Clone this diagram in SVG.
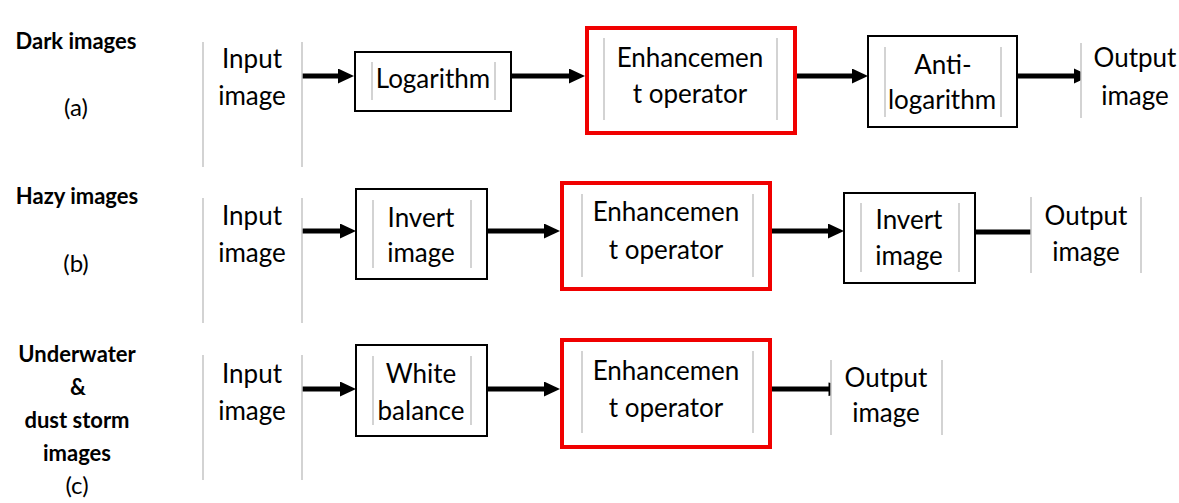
<svg xmlns="http://www.w3.org/2000/svg" width="1179" height="503" viewBox="0 0 1179 503">
<defs>
<style>
.t{font-family:Lato,"Open Sans","Liberation Sans",sans-serif;font-size:26px;fill:#000;text-anchor:middle}
.lb{font-family:Lato,"Open Sans","Liberation Sans",sans-serif;font-size:22px;font-weight:bold;fill:#000;text-anchor:middle}
.lr{font-family:Lato,"Open Sans","Liberation Sans",sans-serif;font-size:24px;fill:#000;text-anchor:middle}
.g{stroke:#c4c4c4;stroke-width:1.5;fill:none}
.bx{fill:#fff;stroke:#000;stroke-width:2}
.rb{fill:#fff;stroke:#f00000;stroke-width:4}
.ar{stroke:#000;stroke-width:5;fill:none}
</style>
<marker id="ah" viewBox="0 0 16 15" refX="1" refY="7.5" markerWidth="16" markerHeight="15" markerUnits="userSpaceOnUse" orient="auto">
<path d="M0,0 L16,7.5 L0,15 z" fill="#000"/>
</marker>
</defs>
<rect width="1179" height="503" fill="#fff"/>

<g id="labels">
<text class="lb" x="76" y="49">Dark images</text>
<text class="lr" x="76" y="116">(a)</text>
<text class="lb" x="77" y="204">Hazy images</text>
<text class="lr" x="76" y="272">(b)</text>
<text class="lb" x="77" y="362">Underwater</text>
<text class="lb" x="78" y="395">&amp;</text>
<text class="lb" x="77" y="428">dust storm</text>
<text class="lb" x="77" y="461">images</text>
<text class="lr" x="77" y="494">(c)</text>
</g>

<g id="connectors">
<line class="ar" x1="302" y1="76" x2="339" y2="76" marker-end="url(#ah)"/>
<line class="ar" x1="511" y1="76" x2="570" y2="76" marker-end="url(#ah)"/>
<line class="ar" x1="797" y1="76" x2="853" y2="76" marker-end="url(#ah)"/>
<line class="ar" x1="1018" y1="76" x2="1075" y2="76"/>
<polygon points="1074,68.5 1081,71.8 1081,80.2 1074,83.5" fill="#000"/>

<line class="ar" x1="302" y1="231" x2="341" y2="231" marker-end="url(#ah)"/>
<line class="ar" x1="488" y1="231" x2="545" y2="231" marker-end="url(#ah)"/>
<line class="ar" x1="772" y1="231" x2="829" y2="231" marker-end="url(#ah)"/>
<line class="ar" x1="976" y1="232" x2="1031" y2="232"/>

<line class="ar" x1="302" y1="389" x2="341" y2="389" marker-end="url(#ah)"/>
<line class="ar" x1="488" y1="389" x2="545" y2="389" marker-end="url(#ah)"/>
<line class="ar" x1="772" y1="389" x2="830" y2="389"/>
<polygon points="828.5,382.5 831,383 831,395.5 828.5,396" fill="#000"/>
</g>

<g id="a-input">
<line class="g" x1="203" y1="42" x2="203" y2="167"/>
<line class="g" x1="302" y1="42" x2="302" y2="167"/>
<text class="t" x="252" y="68">Input</text>
<text class="t" x="252" y="105">image</text>
</g>
<g id="a-log">
<rect class="bx" x="355" y="52" width="156" height="59"/>
<line class="g" x1="372" y1="62" x2="372" y2="100"/>
<line class="g" x1="495" y1="62" x2="495" y2="100"/>
<text class="t" x="433" y="88">Logarithm</text>
</g>
<g id="a-enh">
<rect class="rb" x="587" y="28" width="208" height="105"/>
<line class="g" x1="604" y1="38" x2="604" y2="120"/>
<line class="g" x1="777" y1="38" x2="777" y2="120"/>
<text class="t" x="690" y="67">Enhancemen</text>
<text class="t" x="690" y="103">t operator</text>
</g>
<g id="a-antilog">
<rect class="bx" x="868" y="36" width="149" height="91"/>
<line class="g" x1="885" y1="47" x2="885" y2="117"/>
<line class="g" x1="1001" y1="47" x2="1001" y2="117"/>
<text class="t" x="943" y="74">Anti-</text>
<text class="t" x="942" y="109">logarithm</text>
</g>
<g id="a-output">
<line class="g" x1="1081" y1="43" x2="1081" y2="118"/>
<text class="t" x="1135" y="67">Output</text>
<text class="t" x="1135" y="105">image</text>
</g>

<g id="b-input">
<line class="g" x1="203" y1="198" x2="203" y2="323"/>
<line class="g" x1="302" y1="198" x2="302" y2="323"/>
<text class="t" x="252" y="225">Input</text>
<text class="t" x="252" y="262">image</text>
</g>
<g id="b-invert1">
<rect class="bx" x="356" y="189" width="131" height="90"/>
<line class="g" x1="373" y1="200" x2="373" y2="268"/>
<line class="g" x1="471" y1="200" x2="471" y2="268"/>
<text class="t" x="421" y="227">Invert</text>
<text class="t" x="421" y="262">image</text>
</g>
<g id="b-enh">
<rect class="rb" x="562" y="183" width="208" height="106"/>
<line class="g" x1="582" y1="194" x2="582" y2="277"/>
<line class="g" x1="753" y1="194" x2="753" y2="277"/>
<text class="t" x="666" y="221">Enhancemen</text>
<text class="t" x="666" y="259">t operator</text>
</g>
<g id="b-invert2">
<rect class="bx" x="844" y="193" width="131" height="90"/>
<line class="g" x1="861" y1="203" x2="861" y2="272"/>
<line class="g" x1="959" y1="203" x2="959" y2="272"/>
<text class="t" x="909" y="229">Invert</text>
<text class="t" x="909" y="265">image</text>
</g>
<g id="b-output">
<line class="g" x1="1031" y1="197" x2="1031" y2="273"/>
<line class="g" x1="1141" y1="197" x2="1141" y2="273"/>
<text class="t" x="1086" y="225">Output</text>
<text class="t" x="1086" y="261">image</text>
</g>

<g id="c-input">
<line class="g" x1="203" y1="355" x2="203" y2="480"/>
<line class="g" x1="302" y1="355" x2="302" y2="480"/>
<text class="t" x="252" y="383">Input</text>
<text class="t" x="252" y="420">image</text>
</g>
<g id="c-wb">
<rect class="bx" x="356" y="345" width="131" height="91"/>
<line class="g" x1="373" y1="356" x2="373" y2="425"/>
<line class="g" x1="471" y1="356" x2="471" y2="425"/>
<text class="t" x="421" y="383">White</text>
<text class="t" x="421" y="420">balance</text>
</g>
<g id="c-enh">
<rect class="rb" x="562" y="340" width="208" height="107"/>
<line class="g" x1="582" y1="351" x2="582" y2="433"/>
<line class="g" x1="753" y1="351" x2="753" y2="433"/>
<text class="t" x="666" y="380">Enhancemen</text>
<text class="t" x="666" y="417">t operator</text>
</g>
<g id="c-output">
<line class="g" x1="831" y1="360" x2="831" y2="435"/>
<line class="g" x1="942" y1="360" x2="942" y2="435"/>
<text class="t" x="886" y="387">Output</text>
<text class="t" x="886" y="422">image</text>
</g>
</svg>
